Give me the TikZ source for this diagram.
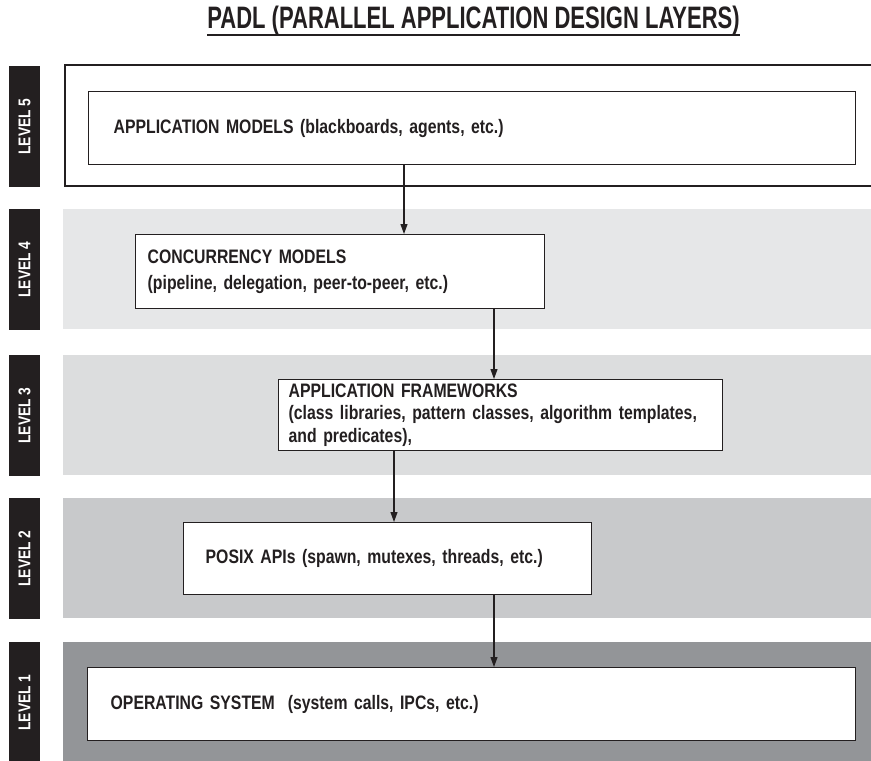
\documentclass[tikz,border=0pt]{standalone}
\usepackage{fontspec}
\newfontfamily\condfont[FakeStretch=0.81]{Liberation Sans}
\newfontfamily\titlefont[FakeStretch=0.71]{Liberation Sans}
\usetikzlibrary{arrows.meta}
\definecolor{ink}{HTML}{231F20}
\definecolor{bandfour}{HTML}{E6E7E8}
\definecolor{bandthree}{HTML}{DCDDDE}
\definecolor{bandtwo}{HTML}{C8C9CB}
\definecolor{bandone}{HTML}{939598}
\tikzset{
  layerbox/.style={draw=ink, line width=1.4pt, fill=white, anchor=north west,
    inner ysep=0pt, align=left, text=ink,
    font=\condfont\bfseries\fontsize{19.5}{22.5}\selectfont},
  levellabel/.style={fill=ink, text=white, rotate=90, inner sep=0pt,
    minimum width=121pt, minimum height=31pt,
    font=\condfont\bfseries\fontsize{17}{17}\selectfont},
  flow/.style={draw=ink, line width=1.1pt, -{Triangle[length=10pt,width=7pt]}}
}
\begin{document}
\begin{tikzpicture}[x=1pt,y=-1pt]
 \useasboundingbox (0,0) rectangle (871,761);
 % title
 \node[anchor=base, inner sep=0pt, text=ink, font=\titlefont\bfseries\fontsize{31}{31}\selectfont] (title) at (473.5,28) {PADL (PARALLEL APPLICATION DESIGN LAYERS)};
 \draw[ink, line width=1.3pt] ([yshift=-7pt]title.base west) -- ([yshift=-7pt]title.base east);
 % bands
 \foreach \top/\col in {209/bandfour,355/bandthree,498/bandtwo,642/bandone}{
    \fill[\col] (63,\top) rectangle (871,\top+120);
 }
 \draw[ink, line width=1.4pt] (875,65) -- (65,65) -- (65,186) -- (875,186);
 \foreach \n/\top in {5/66,4/209,3/355,2/498,1/642}{
    \node[levellabel] (lv\n) at (24.5,\top+60.5) {LEVEL \n};
 }
 % layers
 \node[layerbox, inner xsep=25pt, text width=717pt, minimum height=73pt] (appmod) at (88,91)
   {APPLICATION MODELS (blackboards, agents, etc.)};
 \node[layerbox, inner xsep=12pt, text width=385pt, minimum height=74pt] (concmod) at (135,234)
   {CONCURRENCY MODELS\\[3.5pt](pipeline, delegation, peer-to-peer, etc.)};
 \node[layerbox, inner xsep=10pt, text width=424pt, minimum height=71pt] (appfw) at (278,379)
   {APPLICATION FRAMEWORKS\\(class libraries, pattern classes, algorithm templates,\\and predicates),};
 \node[layerbox, inner xsep=22pt, text width=364pt, minimum height=72pt] (posix) at (183,522)
   {POSIX APIs (spawn, mutexes, threads, etc.)};
 \node[layerbox, inner xsep=23pt, text width=722pt, minimum height=73pt] (opsys) at (87,667)
   {OPERATING SYSTEM\ \ (system calls, IPCs, etc.)};
 % connectors
 \coordinate (xa) at (404,0);
 \coordinate (xb) at (494,0);
 \coordinate (xc) at (394,0);
 \draw[flow] (appmod.south -| xa) -- (concmod.north -| xa);
 \draw[flow] (concmod.south -| xb) -- (appfw.north -| xb);
 \draw[flow] (appfw.south -| xc) -- (posix.north -| xc);
 \draw[flow] (posix.south -| xb) -- (opsys.north -| xb);
\end{tikzpicture}
\end{document}
